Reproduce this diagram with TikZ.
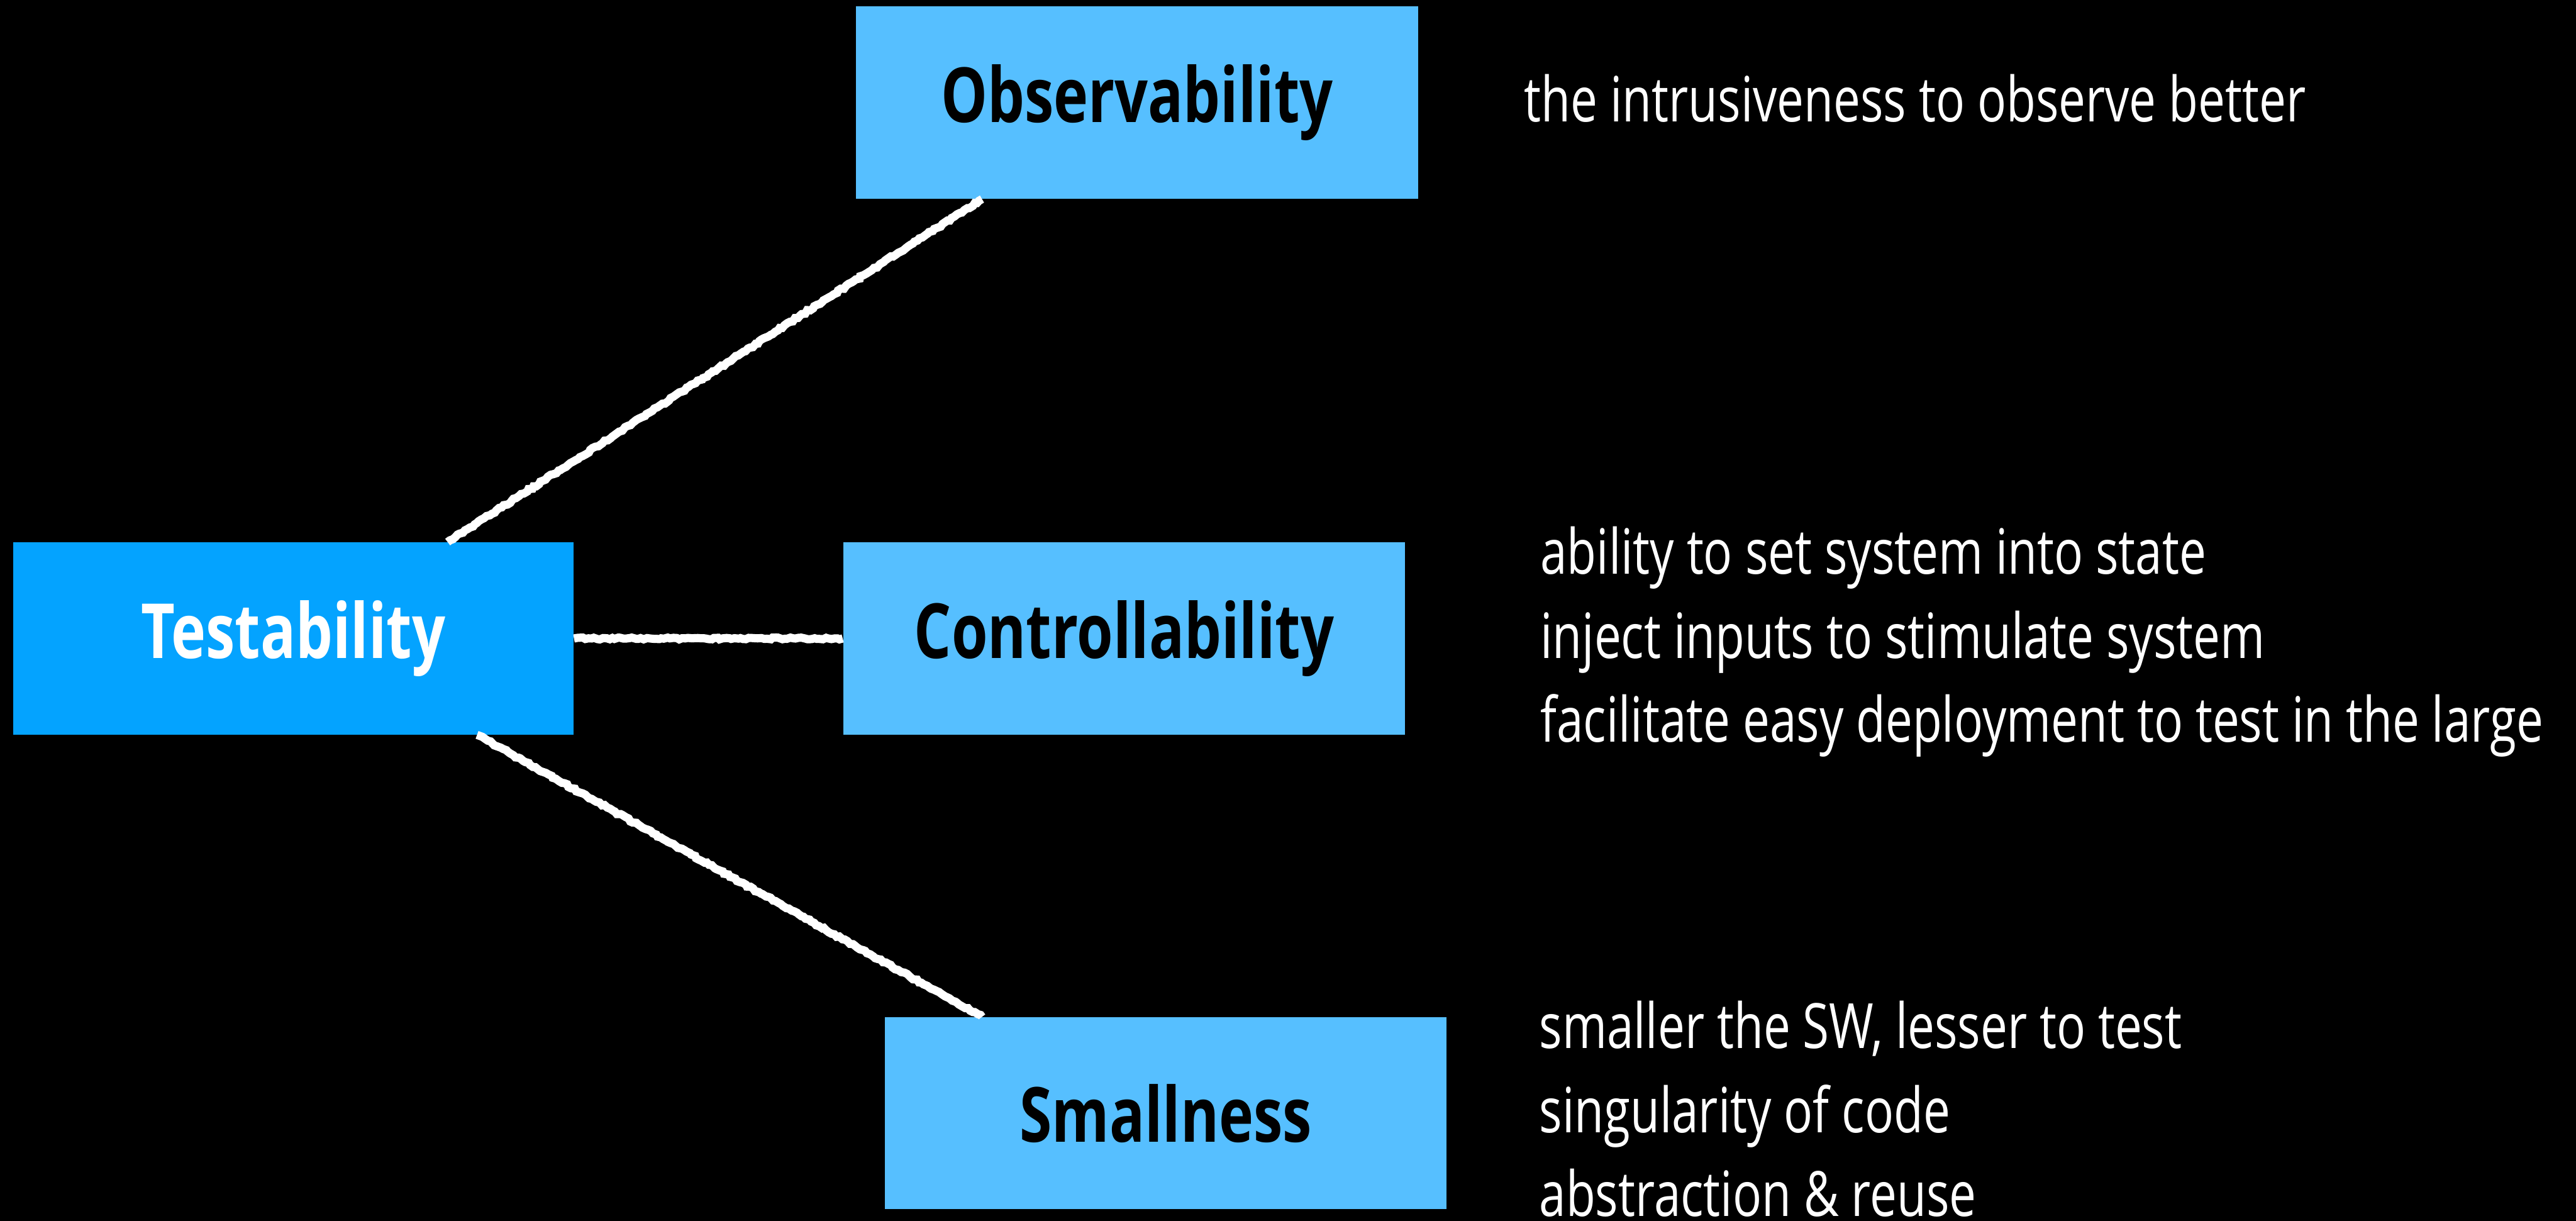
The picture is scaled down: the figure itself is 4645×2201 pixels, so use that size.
\documentclass[tikz,border=0pt]{standalone}
\usepackage{fontspec}
\setmainfont{Open Sans}[FakeStretch=0.77]
\usetikzlibrary{decorations.pathmorphing}

\definecolor{rootblue}{RGB}{4,163,255}
\definecolor{leafblue}{RGB}{86,191,255}

\tikzset{
    rootbox/.style={fill=rootblue, text=white, inner sep=0pt,
        minimum width=10.1cm, minimum height=3.46cm,
        font=\fontsize{39}{47}\selectfont\bfseries},
    leafbox/.style={fill=leafblue, text=black, inner sep=0pt,
        minimum width=10.13cm, minimum height=3.46cm,
        font=\fontsize{39}{47}\selectfont\bfseries},
    chalk/.style={white, line width=4.2pt, decorate,
        decoration={random steps, segment length=1.5pt, amplitude=0.5pt}},
    note/.style={anchor=base west, text=white, inner sep=0pt,
        font=\fontsize{32}{38}\selectfont}
}

\begin{document}
\begin{tikzpicture}[x=0.01cm, y=-0.01cm]
        \pgfmathsetseed{7}
        \fill[black] (0,0) rectangle (4645,2201);
        \useasboundingbox (0,0) rectangle (4645,2201);

        \node[rootbox] (test)  at ( 529,1151) {Testability};
        \node[leafbox] (obs)   at (2050, 185) {Observability};
        \node[leafbox] (ctrl)  at (2027,1151) {Controllability};
        \node[leafbox] (small) at (2102,2007) {Smallness};

        \draw[chalk] ([xshift=2.78cm]test.north) -- ([xshift=-2.79cm]obs.south);
        \draw[chalk] (test.east) -- (ctrl.west);
        \draw[chalk] ([xshift=3.31cm]test.south) -- ([xshift=-3.31cm]small.north);

        \node[note] (obsa)   at (2748, 219) {the intrusiveness to observe better};

        \node[note] (ctrla)  at (2777,1035) {ability to set system into state};
        \node[note] (ctrlb)  at (2777,1187) {inject inputs to stimulate system};
        \node[note] (ctrlc)  at (2777,1338) {facilitate easy deployment to test in the large};

        \node[note] (smalla) at (2775,1890) {smaller the SW, lesser to test};
        \node[note] (smallb) at (2775,2042) {singularity of code};
        \node[note] (smallc) at (2775,2193) {abstraction \& reuse};
    \end{tikzpicture}
\end{document}
